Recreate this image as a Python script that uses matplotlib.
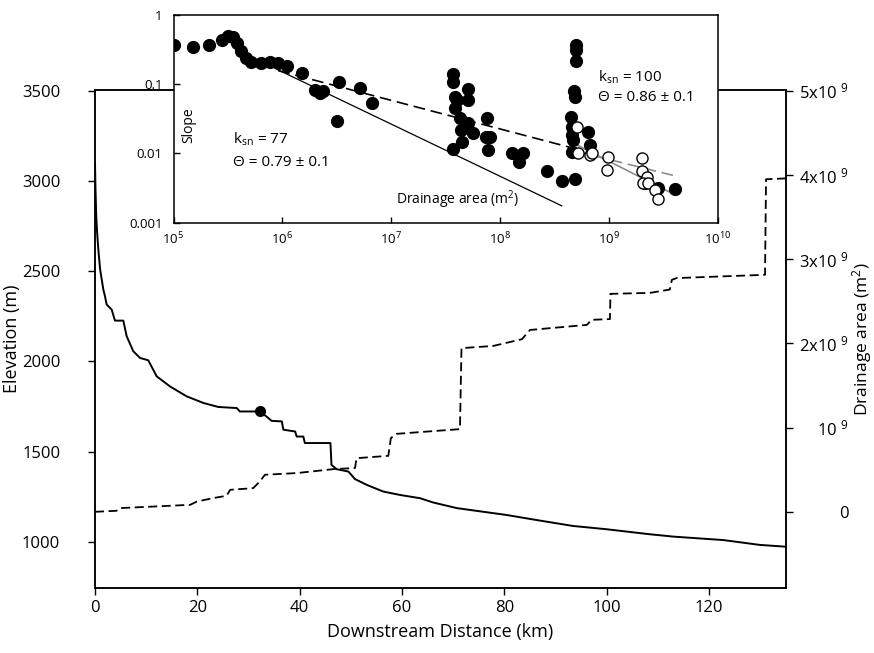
import numpy as np
import matplotlib.pyplot as plt

plt.rcParams['font.family'] = ['Open Sans', 'DejaVu Sans']
plt.rcParams['mathtext.fontset'] = 'custom'
plt.rcParams['mathtext.rm'] = 'Open Sans'
plt.rcParams['mathtext.it'] = 'Open Sans:italic'

# Perfil longitudinal (km, m)
dist_km = [0, 0.1, 0.25, 0.45, 0.65, 1.0, 1.63, 1.95, 2.28, 3.26, 3.9, 5.53, 6.19,
           7.48, 8.79, 10.4, 12.05, 14.65, 17.9, 21.2, 24.1, 27.7, 28.3, 32.2, 33.5,
           34.5, 36.5, 36.8, 39.1, 39.4, 40.7, 41.0, 46.0, 46.2, 47.2, 49.5, 50.8,
           53.1, 56.3, 59.6, 63.5, 66.1, 70.7, 80.4, 86.9, 93.4, 99.9, 108.4, 113.0,
           122.7, 129.9, 135.0]
elev_m = [3100, 2950, 2800, 2700, 2621, 2510, 2398, 2361, 2315, 2287, 2226, 2226, 2139,
          2056, 2019, 2006, 1917, 1861, 1806, 1769, 1747, 1741, 1722, 1722, 1694,
          1670, 1667, 1621, 1611, 1583, 1583, 1547, 1547, 1426, 1402, 1389, 1347,
          1315, 1278, 1259, 1241, 1217, 1186, 1148, 1117, 1087, 1069, 1041, 1028,
          1009, 982, 972]

# Área de drenaje (km, x10^9 m2)
area_km = [0, 4.2, 4.9, 18.6, 19.9, 23.1, 25.7, 26.4, 30.9, 32.2, 33.2, 39.4, 46.6,
           50.8, 51.1, 57.3, 57.8, 58.9, 71.3, 71.6, 77.8, 83.4, 85.0, 96.1, 97.0,
           100.6, 100.7, 108.4, 112.3, 112.7, 113.6, 130.9, 131.1, 135.0]
area_e9 = [0.0, 0.012, 0.044, 0.083, 0.122, 0.163, 0.19, 0.261, 0.281, 0.36, 0.44,
           0.46, 0.507, 0.52, 0.637, 0.665, 0.875, 0.926, 0.982, 1.944, 1.97, 2.05,
           2.16, 2.22, 2.28, 2.289, 2.589, 2.60, 2.64, 2.755, 2.776, 2.815, 3.95, 3.96]

knick_km = [32.2]
knick_elev = [1722]

x_ticks = [0, 20, 40, 60, 80, 100, 120]
elev_ticks = [1000, 1500, 2000, 2500, 3000, 3500]
area_ticks = [0, 1, 2, 3, 4, 5]
area_labels = ['0', r'10 $^{9}$', r'2x10 $^{9}$', r'3x10 $^{9}$', r'4x10 $^{9}$', r'5x10 $^{9}$']

# Pendiente vs área (log10)
fill_logA = [5.0, 5.176, 5.329, 5.446, 5.504, 5.55, 5.586, 5.618, 5.666, 5.71, 5.804,
             5.887, 5.963, 6.04, 6.178, 6.30, 6.347, 6.377, 6.524, 6.5, 6.714, 6.824,
             7.572, 7.572, 7.572, 7.587, 7.603, 7.587, 7.71, 7.71, 7.633, 7.71, 7.64,
             7.75, 7.649, 7.879, 7.872, 7.909, 7.893, 8.108, 8.215, 8.178, 8.43, 8.568,
             8.69, 8.699, 8.699, 8.699, 8.684, 8.69, 8.651, 8.66, 8.66, 8.675, 8.66,
             8.812, 8.828, 9.456, 9.609, 9.33]
fill_logS = [-0.433, -0.466, -0.433, -0.361, -0.303, -0.322, -0.4, -0.515, -0.625, -0.674,
             -0.697, -0.674, -0.688, -0.736, -0.841, -1.082, -1.13, -1.092, -0.971, -1.525,
             -1.058, -1.274, -0.851, -0.962, -1.938, -1.179, -1.227, -1.347, -1.072, -1.227,
             -1.491, -1.554, -1.66, -1.708, -1.828, -1.491, -1.756, -1.756, -1.948, -1.996,
             -1.996, -2.117, -2.247, -2.395, -2.371, -0.433, -0.505, -0.659, -1.092, -1.179,
             -1.467, -1.611, -1.732, -1.804, -1.972, -1.684, -1.876, -2.501, -2.516, -2.43]
open_logA = [8.706, 8.721, 8.828, 8.844, 8.996, 8.982, 9.303, 9.303, 9.349, 9.318,
             9.364, 9.426, 9.456]
open_logS = [-1.611, -1.996, -2.02, -1.996, -2.045, -2.237, -2.068, -2.247, -2.333, -2.42,
             -2.429, -2.525, -2.659]

fit77_logA = [5.963, 8.568]
fit77_logS = [-0.794, -2.756]
fit_all_logA = [5.963, 8.675]
fit_all_logS = [-0.804, -1.924]
grey_dash_logA = [8.706, 9.609]
grey_dash_logS = [-1.972, -2.323]
fit100_logA = [8.675, 9.609]
fit100_logS = [-1.851, -2.597]

fig = plt.figure(figsize=(8.74, 6.53), dpi=100)
ax = fig.add_axes([95 / 874, 1 - 588 / 653, 691 / 874, 498 / 653])
ax.plot(dist_km, elev_m, color='black', lw=1.4)
ax.plot(knick_km, knick_elev, 'o', color='black', ms=7)
ax.set_xlim(0, 135)
ax.set_ylim(743, 3505)
ax.set_xticks(x_ticks)
ax.set_yticks(elev_ticks)
ax.tick_params(direction='out', length=5, width=1, labelsize=12)
ax.tick_params(axis='y', pad=20)
ax.tick_params(axis='x', pad=4)
ax.set_xlabel('Downstream Distance (km)', fontsize=13, labelpad=5)
ax.set_ylabel('Elevation (m)', fontsize=13, labelpad=1)
for s in ax.spines.values():
    s.set_linewidth(1.1)

ax2 = ax.twinx()
ax2.plot(area_km, area_e9, color='black', lw=1.3, dashes=(5, 2.5))
ax2.set_ylim(-0.905, 5.01)
ax2.set_xlim(0, 135)
ax2.set_yticks(area_ticks)
ax2.set_yticklabels(area_labels)
ax2.tick_params(direction='out', length=5, width=1, labelsize=12, pad=40)
for t in ax2.get_yticklabels():
    t.set_ha('right')
ax2.set_ylabel('Drainage area (m$^{2}$)', fontsize=12.5, labelpad=1)
for s in ax2.spines.values():
    s.set_linewidth(1.1)

# Recuadro: pendiente vs área
ins = fig.add_axes([173.5 / 874, 1 - 222.7 / 653, 544 / 874, 207.7 / 653])
ins.set_xscale('log')
ins.set_yscale('log')
ins.plot(10 ** np.array(fit77_logA), 10 ** np.array(fit77_logS), color='black', lw=0.9)
ins.plot(10 ** np.array(fit_all_logA), 10 ** np.array(fit_all_logS), color='black',
         lw=1.2, dashes=(7, 3.5))
ins.plot(10 ** np.array(grey_dash_logA), 10 ** np.array(grey_dash_logS), color='#8c8c8c',
         lw=1.2, dashes=(7, 3.5))
ins.plot(10 ** np.array(fit100_logA), 10 ** np.array(fit100_logS), color='#8c8c8c', lw=1.2)
ins.plot(10 ** np.array(fill_logA), 10 ** np.array(fill_logS), 'o', color='black', ms=8.5)
ins.plot(10 ** np.array(open_logA), 10 ** np.array(open_logS), 'o', mfc='white',
         mec='black', mew=1, ms=8)
ins.set_xlim(1e5, 1e10)
ins.set_ylim(1e-3, 1)
ins.set_xticks([1e5, 1e6, 1e7, 1e8, 1e9, 1e10])
ins.set_yticks([1e-3, 1e-2, 1e-1, 1])
ins.set_yticklabels(['0.001', '0.01', '0.1', '1'])
ins.minorticks_off()
ins.tick_params(direction='in', length=4, width=1, labelsize=9.5)
ins.tick_params(axis='y', pad=8)
ins.tick_params(axis='x', pad=6)
for s in ins.spines.values():
    s.set_linewidth(1.1)
ins.text(0.0285, 0.47, 'Slope', transform=ins.transAxes, rotation=90,
         ha='center', va='center', fontsize=10)
ins.text(0.523, 0.109, 'Drainage area (m$^{2}$)', transform=ins.transAxes,
         ha='center', va='center', fontsize=10)
ins.text(0.109, 0.40, 'k$_{\\mathrm{sn}}$ = 77', transform=ins.transAxes,
         ha='left', va='center', fontsize=11)
ins.text(0.109, 0.29, 'Θ = 0.79 ± 0.1', transform=ins.transAxes,
         ha='left', va='center', fontsize=11)
ins.text(0.78, 0.70, 'k$_{\\mathrm{sn}}$ = 100', transform=ins.transAxes,
         ha='left', va='center', fontsize=11)
ins.text(0.78, 0.605, 'Θ = 0.86 ± 0.1', transform=ins.transAxes,
         ha='left', va='center', fontsize=11)

fig.savefig('out.png', dpi=100)
